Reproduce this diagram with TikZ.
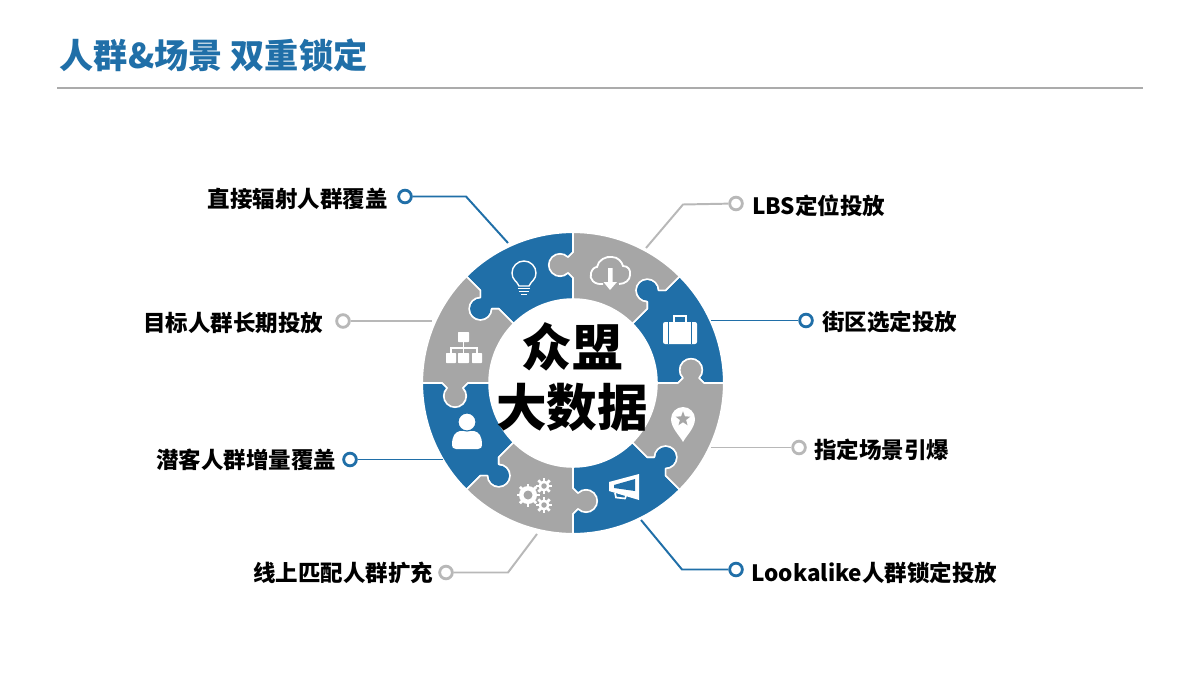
\documentclass[tikz,border=0pt]{standalone}
\usepackage{fontspec}
\setmainfont{Noto Sans CJK SC}
\usetikzlibrary{shapes.geometric}
\definecolor{bluepc}{rgb}{0.125,0.435,0.659}
\definecolor{graypc}{rgb}{0.651,0.651,0.651}
\definecolor{rulegray}{rgb}{0.67,0.67,0.67}
\definecolor{leadgray}{rgb}{0.72,0.72,0.72}
\tikzset{
  piece/.style={draw=white,line width=1.1pt,line join=round},
  blueline/.style={bluepc,line width=1.4pt},
  grayline/.style={leadgray,line width=1.4pt},
  bluedot/.style={circle,draw=bluepc,fill=white,line width=2pt,minimum size=9pt,inner sep=0pt},
  graydot/.style={circle,draw=leadgray,fill=white,line width=2pt,minimum size=9pt,inner sep=0pt},
  tag/.style={font=\fontsize{16}{18}\selectfont\bfseries,inner sep=0pt},
  iconline/.style={white,line width=1pt}
}

\begin{document}
\begin{tikzpicture}[x=0.025cm,y=0.025cm]
            \useasboundingbox (0,0) rectangle (1200,-675);

            % title
            \node[anchor=west,inner sep=0pt,bluepc,font=\fontsize{24.3}{27}\selectfont\bfseries] (title) at (59.5,-55) {人群\&场景 双重锁定};
            \coordinate (ruleL) at (57,-88);
            \coordinate (ruleR) at (1143,-88);
            \draw[rulegray,line width=1pt] (ruleL) -- (ruleR);

            % ring of puzzle pieces
            \foreach \ang/\col in {0/bluepc,45/graypc,90/bluepc,135/graypc,180/bluepc,225/graypc,270/bluepc,315/graypc}{
              \begin{scope}[shift={(573,-383)},rotate=\ang]
                \draw[piece,fill=\col] (84,0) -- (105,0) -- (110,5) arc[start angle=225,end angle=-45,radius=11.3] -- (131,0) -- (150.7,0)
                  arc[start angle=0,end angle=45,radius=150.7] -- (92.63,92.63) -- (85.56,92.63) arc[start angle=0,end angle=270,radius=11.3]
                  -- (74.25,74.25) -- (59.40,59.40) arc[start angle=45,end angle=0,radius=84] -- cycle;
              \end{scope}
            }

            % centre text
            \node[align=center,inner sep=0pt,font=\fontsize{36}{42.7}\selectfont\bfseries] (centre) at (572,-377) {众盟\\大数据};

            % bulb
            \draw[iconline] (519,-286) .. controls (517,-281) and (512,-280) .. (512,-273) arc[start angle=180,end angle=0,radius=12] .. controls (536,-280) and (531,-281) .. (529,-286) -- cycle;
            \draw[iconline] (518,-288.5) -- (530,-288.5) (519,-291.5) -- (529,-291.5) (521,-294.5) -- (527,-294.5);

            % cloud
            \draw[white,line width=1.3pt] (603,-284) .. controls (594,-285) and (589,-279) .. (591,-273) .. controls (592,-269) and (595,-267) .. (597,-267) .. controls (598,-260) and (606,-256) .. (612,-257) .. controls (618,-257) and (622,-262) .. (623,-266) .. controls (628,-266) and (631,-270) .. (630,-275) .. controls (630,-280) and (625,-284) .. (619,-284);
            \fill[white] (608,-268) -- (612.5,-268) -- (612.5,-282) -- (617,-282) -- (610,-290) -- (603.5,-282) -- (608,-282) -- cycle;

            % briefcase
            \fill[white,rounded corners=1.5pt] (663,-322) rectangle (697,-344);
            \draw[bluepc,line width=1pt] (668.5,-322) -- (668.5,-344) (691.5,-322) -- (691.5,-344);
            \draw[iconline,line width=1.3pt] (674,-322) -- (674,-316) -- (686,-316) -- (686,-322);

            % pin
            \fill[white] (683,-442) .. controls (680,-436) and (671,-428) .. (671,-419) arc[start angle=180,end angle=0,radius=12] .. controls (695,-428) and (686,-436) .. (683,-442) -- cycle;
            \node[star,star points=5,star point ratio=2.4,fill=graypc,inner sep=0pt,minimum size=11pt] (pinstar) at (683,-419) {};

            % megaphone
            \fill[white] (609,-482) -- (639,-474) -- (639,-500) -- (609,-491) -- cycle;
            \fill[bluepc] (614,-485) -- (635,-479) -- (635,-491) -- (614,-488) -- cycle;
            \draw[iconline,line width=1.2pt] (615,-493) -- (616,-497.5) -- (625,-498.5) -- (626,-496);

            % gears
            \foreach \gx/\gy/\gr in {528/495/9,544/486/5.5,544/505/5.5}{
              \begin{scope}[shift={(\gx,-\gy)}]
                \foreach \t in {0,45,...,315}{
                  \draw[white,line width=2pt] (\t:0) -- (\t:\gr+2.5);
                }
                \fill[white] (0,0) circle [radius=\gr];
                \fill[graypc] (0,0) circle [radius=\gr*0.5];
              \end{scope}
            }

            % org chart
            \fill[white,rounded corners=0.5pt] (458,-332) rectangle (469,-342) (446,-353) rectangle (456,-363) (458,-353) rectangle (469,-363) (472,-353) rectangle (482,-363);
            \draw[iconline] (463.5,-342) -- (463.5,-353) (451,-353) -- (451,-348) -- (477,-348) -- (477,-353);

            % person
            \fill[white] (456,-449) .. controls (453,-449) and (452,-447) .. (452,-445) .. controls (452,-436) and (455,-432) .. (460,-431) -- (474,-431) .. controls (479,-432) and (482,-436) .. (482,-445) .. controls (482,-447) and (481,-449) .. (478,-449) -- cycle;
            \draw[bluepc,fill=white,line width=0.8pt] (467,-422) circle [radius=9];

            % labels and leader lines
            \node[bluedot] (dotdirect) at (405,-196.5) {};
            \node[tag,anchor=east] (direct) at (388,-199) {直接辐射人群覆盖};
            \coordinate (benddirect) at (466,-196.5);
            \coordinate (enddirect) at (508,-243);
            \draw[blueline] (dotdirect) -- (benddirect) -- (enddirect);

            \node[graydot] (dotlong) at (343,-321) {};
            \node[tag,anchor=east] (long) at (323.5,-323) {目标人群长期投放};
            \coordinate (endlong) at (432,-321);
            \draw[grayline] (dotlong) -- (endlong);

            \node[bluedot] (dotgrow) at (350,-459.5) {};
            \node[tag,anchor=east] (grow) at (336.5,-460) {潜客人群增量覆盖};
            \coordinate (endgrow) at (443,-459.5);
            \draw[blueline] (dotgrow) -- (endgrow);

            \node[graydot] (dotonline) at (446,-572.5) {};
            \node[tag,anchor=east] (online) at (433.5,-573) {线上匹配人群扩充};
            \coordinate (bendonline) at (508,-572.5);
            \coordinate (endonline) at (537,-534);
            \draw[grayline] (dotonline) -- (bendonline) -- (endonline);

            \node[graydot] (dotlbs) at (736,-203.5) {};
            \node[tag,anchor=west] (lbs) at (752,-206) {LBS定位投放};
            \coordinate (bendlbs) at (683,-204.5);
            \coordinate (endlbs) at (646,-248);
            \draw[grayline] (dotlbs) -- (bendlbs) -- (endlbs);

            \node[bluedot] (dotstreet) at (806,-320.5) {};
            \node[tag,anchor=west] (street) at (822,-322) {街区选定投放};
            \coordinate (endstreet) at (711,-320.5);
            \draw[blueline] (dotstreet) -- (endstreet);

            \node[graydot] (dotscene) at (799,-447.5) {};
            \node[tag,anchor=west] (scene) at (814,-450) {指定场景引爆};
            \coordinate (endscene) at (711,-447.5);
            \draw[grayline] (dotscene) -- (endscene);

            \node[bluedot] (dotlook) at (736,-569.5) {};
            \node[tag,anchor=west] (look) at (751,-573) {Lookalike人群锁定投放};
            \coordinate (bendlook) at (682,-569.5);
            \coordinate (endlook) at (641,-520);
            \draw[blueline] (dotlook) -- (bendlook) -- (endlook);
\end{tikzpicture}
\end{document}
